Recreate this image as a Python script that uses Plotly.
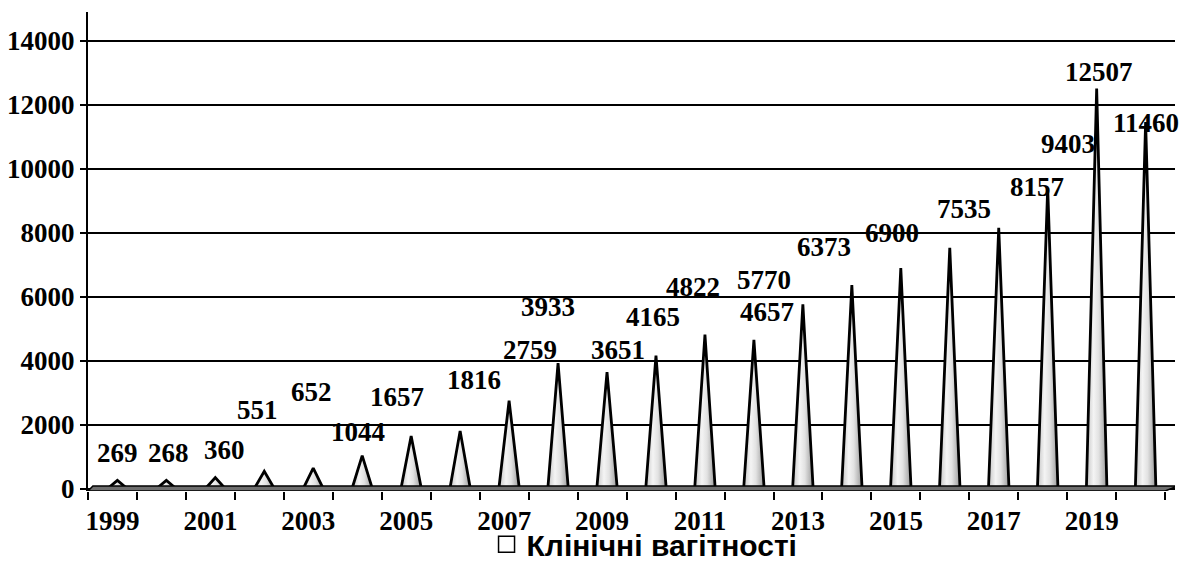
import plotly.graph_objects as go

years = [str(y) for y in range(1999, 2021)]
clinical_pregnancies = [269, 268, 360, 551, 652, 1044, 1657, 1816, 2759, 3933, 3651,
                        4165, 4822, 4657, 5770, 6373, 6900, 7535, 8157, 9403, 12507, 11460]
y_ticks = [0, 2000, 4000, 6000, 8000, 10000, 12000, 14000]
series_name = "Клінічні вагітності"

# label placement offsets (pixels) mimicking the original 3D chart
label_dx = [0, 2, 9, -7, -2, -4, -14, 14, 21, -10, 11, -3, -12, 13, -39, -28, -9, 14, 38, 20, 2, 0]
label_dy = [27, 27, 27, 61, 76, 24, 39, 51, 51, 56, 22, 39, 48, 28, 24, 38, 35, 39, 41, 44, 17, -1]

n = len(years)
shift = 0.1      # perspective shift of cones
half_w = 0.21    # half base width of cones

serif = "Liberation Serif"
fig = go.Figure()

grad = dict(type="horizontal",
            colorscale=[[0, "#c4c4c4"], [0.35, "#f4f4f4"], [0.6, "#e2e2e2"], [1, "#9a9a9a"]])
for i, v in enumerate(clinical_pregnancies):
    c = i + shift
    fig.add_trace(go.Scatter(
        x=[c - half_w, c, c + half_w, c - half_w],
        y=[0, v, 0, 0],
        mode="lines", fill="toself", fillgradient=grad,
        line=dict(color="black", width=2.8),
        showlegend=False, hoverinfo="skip"))

# legend entry
fig.add_trace(go.Scatter(
    x=[None], y=[None], mode="markers", name=series_name,
    marker=dict(symbol="square", size=16, color="white", line=dict(color="black", width=1.5))))

# dummy trace on xaxis2 to carry year labels
fig.add_trace(go.Scatter(x=[None], y=[None], xaxis="x2", showlegend=False, hoverinfo="skip"))

annotations = []
for i, v in enumerate(clinical_pregnancies):
    annotations.append(dict(
        x=i + shift, y=v, text=str(v), showarrow=False,
        xshift=label_dx[i], yshift=label_dy[i],
        font=dict(family=serif, size=27, color="black", weight="bold")))

# 3D floor band
floor = dict(type="path", xref="x", yref="y",
             path="M -0.5,-62 L 21.5,-62 L 21.75,95 L -0.4,95 Z",
             fillcolor="#6e6e6e", line=dict(color="black", width=1.5), layer="above")

xrange = [-0.5, 21.7]
fig.update_layout(
    width=1182, height=561,
    margin=dict(l=88, r=7, t=12, b=70, autoexpand=False),
    paper_bgcolor="white", plot_bgcolor="white",
    showlegend=True,
    legend=dict(orientation="h", x=0.512, xanchor="center",
                yref="container", y=0.03, yanchor="middle",
                font=dict(family="Liberation Sans", size=30, color="black", weight="bold"),
                bgcolor="rgba(0,0,0,0)", itemsizing="trace", borderwidth=0,
                tracegroupgap=0, itemwidth=30),
    xaxis=dict(range=xrange, tickvals=[k - 0.5 for k in range(n + 1)], automargin=False,
               showticklabels=False, ticks="outside", ticklen=8, tickwidth=2, tickcolor="black",
               showgrid=False, zeroline=False, showline=False),
    xaxis2=dict(range=xrange, overlaying="x", anchor="y", side="bottom", automargin=False,
                tickvals=list(range(0, n, 2)), ticktext=years[::2],
                ticks="outside", ticklen=6, tickcolor="rgba(0,0,0,0)",
                tickfont=dict(family=serif, size=27, color="black", weight="bold"),
                showgrid=False, zeroline=False, showline=False),
    yaxis=dict(range=[-62, 14900], tickvals=y_ticks, ticktext=[str(t) for t in y_ticks],
               automargin=False,
               ticks="outside", ticklen=6, tickwidth=2, tickcolor="black",
               tickfont=dict(family=serif, size=27, color="black", weight="bold"),
               showline=True, linecolor="black", linewidth=2,
               showgrid=True, gridcolor="black", gridwidth=2, zeroline=False),
    annotations=annotations,
    shapes=[floor],
)

fig.write_html("out.html", config={"displayModeBar": False},
               post_script="document.body.style.margin='0';document.body.style.overflow='hidden';")
